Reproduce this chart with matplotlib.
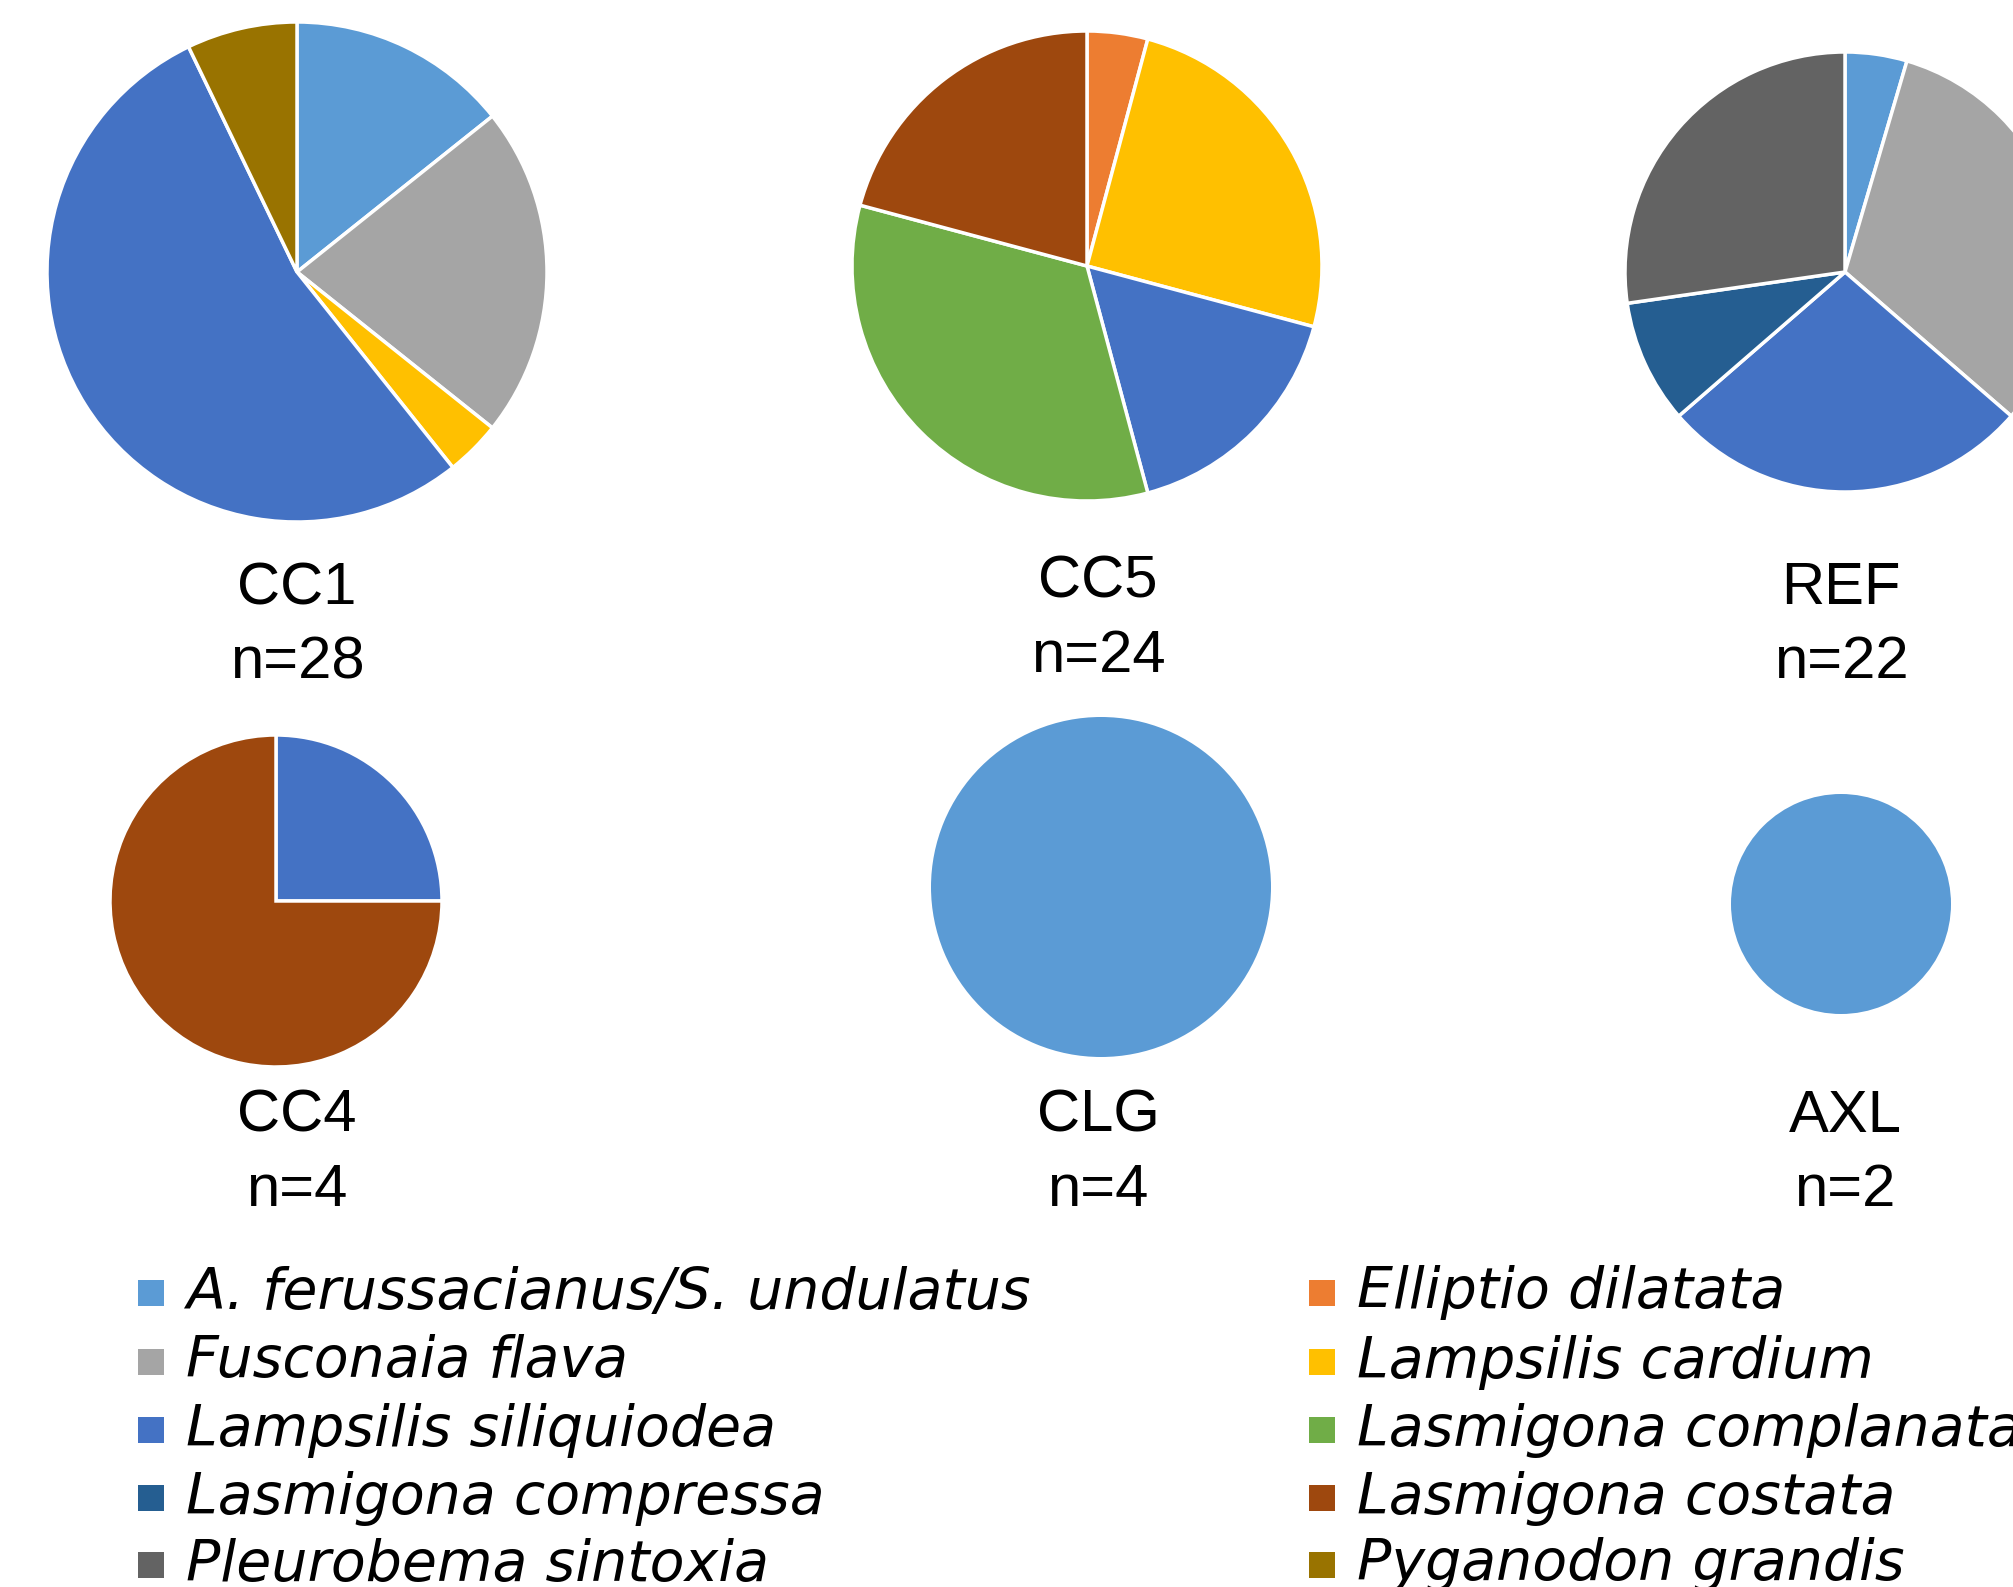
import matplotlib
matplotlib.use("Agg")
import matplotlib.pyplot as plt

# species (legend order, row-major over two columns)
species = ["A. ferussacianus/S. undulatus", "Elliptio dilatata",
           "Fusconaia flava", "Lampsilis cardium",
           "Lampsilis siliquiodea", "Lasmigona complanata",
           "Lasmigona compressa", "Lasmigona costata",
           "Pleurobema sintoxia", "Pyganodon grandis"]
colors = ["#5B9BD5", "#ED7D31", "#A5A5A5", "#FFC000", "#4472C4",
          "#70AD47", "#255E91", "#9E480E", "#636363", "#997300"]

sites = ["CC1", "CC5", "REF", "CC4", "CLG", "AXL"]
# counts per species, same order as `species`
cc1 = [4, 0, 6, 1, 15, 0, 0, 0, 0, 2]
cc5 = [0, 1, 0, 6, 4, 8, 0, 5, 0, 0]
ref = [1, 0, 7, 0, 6, 0, 2, 0, 6, 0]
cc4 = [0, 0, 0, 0, 1, 0, 0, 3, 0, 0]
clg = [4, 0, 0, 0, 0, 0, 0, 0, 0, 0]
axl = [2, 0, 0, 0, 0, 0, 0, 0, 0, 0]
counts = [cc1, cc5, ref, cc4, clg, axl]

W, H = 2013, 1587
# layout in pixels (x, y from top, radius)
pie_pos = [(297, 272, 250), (1087, 266, 235), (1845, 272, 220),
           (276, 901, 166), (1101, 887, 170), (1841, 904, 110)]
label_pos = [(297, 589), (1098, 582), (1841, 589),
             (297, 1116), (1098, 1116), (1845, 1116)]

fig = plt.figure(figsize=(W / 100, H / 100), dpi=100)
ax = fig.add_axes([0, 0, 1, 1])

for site, vals, (cx, cy, r), (lx, ly) in zip(sites, counts, pie_pos, label_pos):
    v = [c for c in vals if c > 0]
    col = [colors[i] for i, c in enumerate(vals) if c > 0]
    lw = 2.5 if len(v) > 1 else 0
    ax.pie(v, colors=col, startangle=90, counterclock=False,
           center=(cx, H - cy), radius=r,
           wedgeprops=dict(edgecolor="white", linewidth=lw))
    ax.text(lx, H - ly, site, ha="center", va="center",
            fontsize=43, family="Liberation Sans")
    ax.text(lx, H - ly - 74, "n=%d" % sum(vals), ha="center",
            va="center", fontsize=43, family="Liberation Sans")

# legend, two columns drawn by hand
col_x = [151, 1322]
row_y = [1293, 1362, 1430, 1498, 1565]
for i, (name, c) in enumerate(zip(species, colors)):
    x = col_x[i % 2]
    y = H - row_y[i // 2]
    ax.scatter([x], [y], marker="s", s=330, color=c, linewidths=0)
    ax.text(x + 35, y, name, ha="left", va="center", fontsize=41,
            family="DejaVu Sans", style="italic")

ax.set_xlim(0, W)
ax.set_ylim(0, H)
ax.set_aspect("equal")
ax.axis("off")

fig.savefig("out.png", dpi=100)
